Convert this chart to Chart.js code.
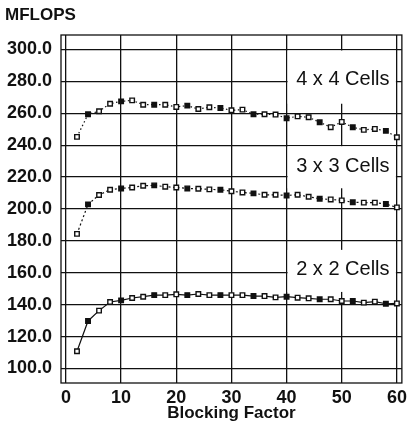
<!DOCTYPE html>
<html>
<head>
<meta charset="utf-8">
<script src="https://cdn.jsdelivr.net/npm/chart.js@4"></script>
<style>
  body { margin: 0; background: #fff; }
  #wrap { width: 411px; height: 429px; }
</style>
</head>
<body>
<div id="wrap"><canvas id="myChart"></canvas></div>
<script>
const BLOCKING = [2, 4, 6, 8, 10, 12, 14, 16, 18, 20, 22, 24, 26, 28, 30,
                  32, 34, 36, 38, 40, 42, 44, 46, 48, 50, 52, 54, 56, 58, 60];
const CELLS_4 = [245.2, 259.4, 261.3, 266.0, 267.5, 268.1, 265.4, 265.4, 265.4, 264.0,
                 264.8, 262.7, 263.8, 263.3, 261.9, 262.3, 259.4, 259.4, 259.2, 256.9,
                 258.1, 257.5, 254.4, 251.3, 254.6, 251.3, 249.6, 250.2, 249.0, 245.0];
const CELLS_3 = [184.4, 202.9, 208.8, 212.1, 212.9, 213.5, 214.6, 214.8, 214.0, 213.5,
                 212.9, 212.7, 212.3, 212.1, 211.1, 210.4, 209.8, 208.9, 208.9, 208.5,
                 208.9, 207.7, 206.4, 206.0, 205.4, 204.2, 204.0, 204.0, 203.1, 201.0];
const CELLS_2 = [110.8, 129.8, 136.3, 141.7, 142.7, 144.2, 145.0, 146.0, 146.0, 146.5,
                 146.0, 146.7, 146.0, 146.0, 146.0, 146.0, 145.4, 145.4, 144.6, 145.0,
                 144.4, 144.0, 143.4, 143.4, 142.3, 142.3, 141.3, 141.9, 140.6, 140.8];
const X_TICKS = [0, 10, 20, 30, 40, 50, 60];
const Y_TICKS = [100, 120, 140, 160, 180, 200, 220, 240, 260, 280, 300];
const SERIES_NAMES = ['4 x 4 Cells', '3 x 3 Cells', '2 x 2 Cells'];

const INK = '#111';
const FONT = '"Liberation Sans", Arial, sans-serif';

function toPoints(ys) {
    return BLOCKING.map((x, i) => ({ x: x, y: ys[i] }));
}

function markerFill(ctx) {
    return (ctx.dataIndex % 3 === 1) ? INK : '#fff';
}

function makeSet(label, ys, dash) {
    return {
        label: label,
        data: toPoints(ys),
        borderColor: INK,
        borderWidth: 1.2,
        borderDash: dash,
        pointStyle: 'rect',
        pointRadius: 3.2,
        pointBorderWidth: 1.4,
        pointBorderColor: INK,
        pointBackgroundColor: markerFill,
        tension: 0
    };
}

// white boxes with the series names, placed in data units
const labelBoxes = [
    { text: SERIES_NAMES[0], yTop: 300, yBot: 266, yText: 281 },
    { text: SERIES_NAMES[1], yTop: 240, yBot: 213, yText: 226.5 },
    { text: SERIES_NAMES[2], yTop: 175, yBot: 148, yText: 162 }
];

const decor = {
    id: 'decor',
    beforeDatasetsDraw(chart) {
        const c = chart.ctx, xs = chart.scales.x, ys = chart.scales.y;
        c.save();
        labelBoxes.forEach(b => {
            const l = xs.getPixelForValue(40) + 1;
            const r = xs.getPixelForValue(60) - 1;
            const t = ys.getPixelForValue(b.yTop) + 1;
            const btm = ys.getPixelForValue(b.yBot);
            c.fillStyle = '#fff';
            c.fillRect(l, t, r - l, btm - t);
            c.fillStyle = INK;
            c.font = '20px ' + FONT;
            c.textAlign = 'center';
            c.textBaseline = 'middle';
            c.fillText(b.text, xs.getPixelForValue(50.2), ys.getPixelForValue(b.yText));
        });
        c.restore();
    },
    afterDraw(chart) {
        const c = chart.ctx, a = chart.chartArea;
        c.save();
        c.strokeStyle = INK;
        c.lineWidth = 1.3;
        c.strokeRect(a.left, a.top, a.right - a.left, a.bottom - a.top);
        c.fillStyle = INK;
        c.font = 'bold 17px ' + FONT;
        c.textAlign = 'left';
        c.textBaseline = 'middle';
        c.fillText('MFLOPS', 5, 15);
        c.restore();
    }
};

new Chart(document.getElementById('myChart'), {
    type: 'line',
    data: {
        datasets: [
            makeSet(SERIES_NAMES[0], CELLS_4, [1.5, 2.5]),
            makeSet(SERIES_NAMES[1], CELLS_3, [2, 2.5]),
            makeSet(SERIES_NAMES[2], CELLS_2, [])
        ]
    },
    options: {
        responsive: true,
        maintainAspectRatio: false,
        animation: false,
        layout: { padding: { top: 35, right: 6, left: 0, bottom: 5 } },
        plugins: {
            legend: { display: false },
            tooltip: { enabled: false }
        },
        scales: {
            x: {
                type: 'linear',
                min: -0.9,
                max: 60.9,
                afterBuildTicks: axis => { axis.ticks = X_TICKS.map(v => ({ value: v })); },
                afterFit: axis => { axis.height = 41; },
                grid: { color: INK, lineWidth: 1.3, drawTicks: false },
                border: { display: false },
                ticks: {
                    color: INK,
                    padding: 4,
                    maxRotation: 0,
                    font: { family: FONT, size: 18, weight: 'bold' }
                },
                title: {
                    display: true,
                    text: 'Blocking Factor',
                    color: INK,
                    padding: { top: 0, bottom: 0 },
                    font: { family: FONT, size: 17, weight: 'bold' }
                }
            },
            y: {
                min: 90.9,
                max: 309.1,
                afterBuildTicks: axis => { axis.ticks = Y_TICKS.map(v => ({ value: v })); },
                afterFit: axis => { axis.width = 61; },
                grid: { color: INK, lineWidth: 1.3, drawTicks: false },
                border: { display: false },
                ticks: {
                    color: INK,
                    padding: 9,
                    callback: v => v.toFixed(1),
                    font: { family: FONT, size: 18, weight: 'bold' }
                }
            }
        }
    },
    plugins: [decor]
});
</script>
</body>
</html>
